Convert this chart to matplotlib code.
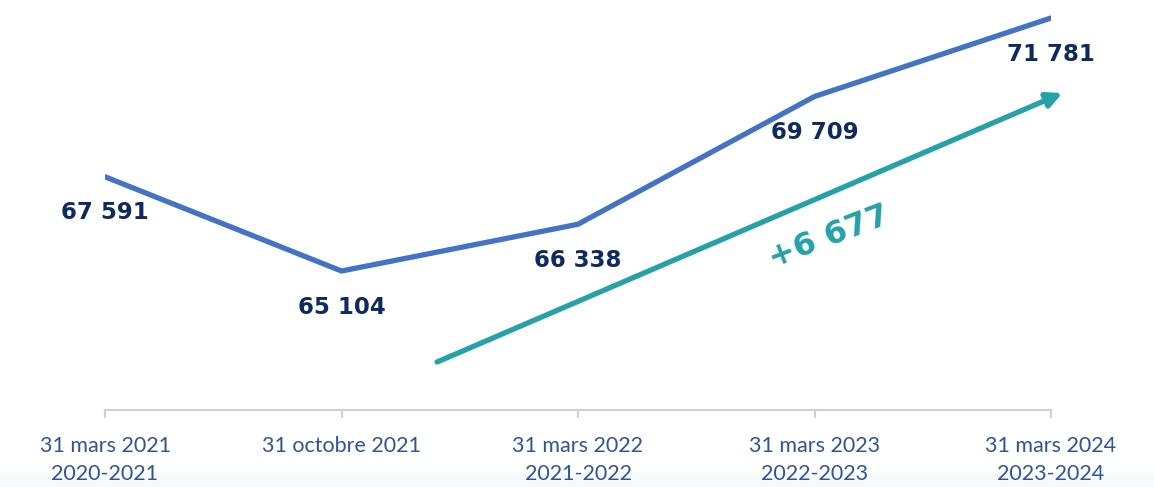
import matplotlib.pyplot as plt
from matplotlib.patches import Rectangle

# Données du graphique
dates = ["31 mars 2021", "31 octobre 2021", "31 mars 2022", "31 mars 2023", "31 mars 2024"]
annees = ["2020-2021", "", "2021-2022", "2022-2023", "2023-2024"]
effectifs = [67591, 65104, 66338, 69709, 71781]
evolution = "+6 677"

bleu = "#4472C4"
marine = "#0E2A5E"
turquoise = "#26A1A8"
axe_bleu = "#2F5597"

fig = plt.figure(figsize=(11.54, 4.87), dpi=100)

# léger dégradé en bas (derrière tout)
fig.patches.append(Rectangle((0, 0), 1, 14 / 487, transform=fig.transFigure,
                             color="#F6FAFB", zorder=-5))

ax = fig.add_axes([105 / 1154, 77 / 487, 946 / 1154, 410 / 487])
ax.patch.set_alpha(0)

x = list(range(len(effectifs)))
ax.plot(x, effectifs, color=bleu, linewidth=3.8, solid_capstyle="round", zorder=3)

for xi, v in zip(x, effectifs):
    label = f"{v:,}".replace(",", " ")
    ax.annotate(label, (xi, v), xytext=(0, -26), textcoords="offset points",
                ha="center", va="center", fontsize=16.5, fontweight="bold",
                color=marine, annotation_clip=False)

ax.set_xlim(0, 4)
ax.set_ylim(61436, 72256)

# flèche d'évolution
ax.annotate("", xy=(1.012, 0.773), xytext=(0.351, 0.117), xycoords="axes fraction",
            textcoords="axes fraction",
            arrowprops=dict(arrowstyle="-|>,head_length=0.9,head_width=0.45",
                            color=turquoise, lw=3.8, shrinkA=0, shrinkB=0),
            annotation_clip=False)
ax.text(0.765, 0.42, evolution, transform=ax.transAxes, rotation=21,
        ha="center", va="center", fontsize=23, fontweight="bold", color=turquoise)

# axe
for s in ["top", "right", "left"]:
    ax.spines[s].set_visible(False)
ax.spines["bottom"].set_color("#D0D0D0")
ax.spines["bottom"].set_linewidth(1.5)
ax.set_yticks([])
ax.set_xticks(x)
ax.set_xticklabels([f"{d}\n{a}" for d, a in zip(dates, annees)],
                   fontsize=15.5, color=axe_bleu, family="Lato", linespacing=1.5)
ax.tick_params(axis="x", length=6, width=1.5, color="#D0D0D0", pad=13)

fig.savefig("out.png", dpi=100)
